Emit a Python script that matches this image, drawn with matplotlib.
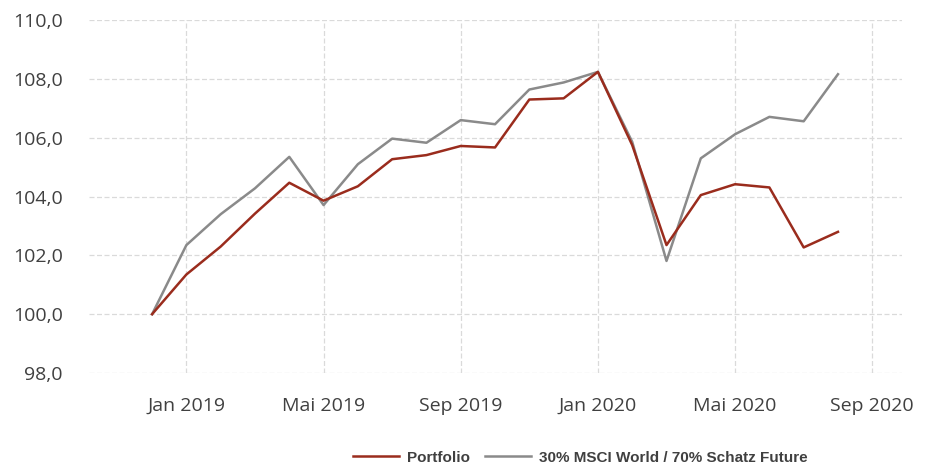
import matplotlib.pyplot as plt
import numpy as np

# monthly index values, Dec 2018 .. Aug 2020
months = ['Dez 2018', 'Jan 2019', 'Feb 2019', 'Mar 2019', 'Apr 2019', 'Mai 2019',
          'Jun 2019', 'Jul 2019', 'Aug 2019', 'Sep 2019', 'Okt 2019', 'Nov 2019',
          'Dez 2019', 'Jan 2020', 'Feb 2020', 'Mar 2020', 'Apr 2020', 'Mai 2020',
          'Jun 2020', 'Jul 2020', 'Aug 2020']
portfolio = [100.0, 101.35, 102.3, 103.42, 104.47, 103.86, 104.35, 105.27, 105.41,
             105.72, 105.67, 107.3, 107.34, 108.24, 105.75, 102.35, 104.05, 104.42,
             104.31, 102.27, 102.8]
benchmark = [100.0, 102.35, 103.4, 104.28, 105.35, 103.71, 105.1, 105.97, 105.83,
             106.6, 106.46, 107.64, 107.88, 108.24, 105.86, 101.81, 105.3, 106.12,
             106.71, 106.56, 108.16]
tick_pos = [1, 5, 9, 13, 17, 21]
tick_labels = ['Jan 2019', 'Mai 2019', 'Sep 2019', 'Jan 2020', 'Mai 2020', 'Sep 2020']
y_ticks = [98, 100, 102, 104, 106, 108, 110]

x = np.arange(len(months))

fig = plt.figure(figsize=(9.3, 4.68), dpi=100)
ax = fig.add_axes([0.0957, 0.203, 0.8743, 0.754])

ax.plot(x, portfolio, color='#9a2c1d', lw=1.8, label='Portfolio', zorder=3)
ax.plot(x, benchmark, color='#8a8a8a', lw=1.8,
        label='30% MSCI World / 70% Schatz Future', zorder=2)

ax.set_xlim(-1.84, 21.87)
ax.set_ylim(98, 110)
ax.set_xticks(tick_pos)
ax.set_xticklabels(tick_labels)
ax.set_yticks(y_ticks)
ax.set_yticklabels([f'{v:.1f}'.replace('.', ',') for v in y_ticks])

for s in ax.spines.values():
    s.set_visible(False)
ax.tick_params(length=0, colors='#404040', labelsize=14)
ax.tick_params(axis='x', pad=17)
ax.tick_params(axis='y', pad=19)
for lab in ax.get_xticklabels() + ax.get_yticklabels():
    lab.set_family('Open Sans')

ax.grid(True, color='#dadada', linestyle=(0, (4, 2)), lw=0.9)
ax.set_axisbelow(True)

fig.legend(loc='center', bbox_to_anchor=(0.624, 0.022), ncol=2, frameon=False,
           prop={'family': 'Liberation Sans', 'weight': 'bold', 'size': 11},
           handlelength=3.0, columnspacing=1.0, handletextpad=0.5, labelcolor='#404040')

fig.savefig('out.png', dpi=100)
